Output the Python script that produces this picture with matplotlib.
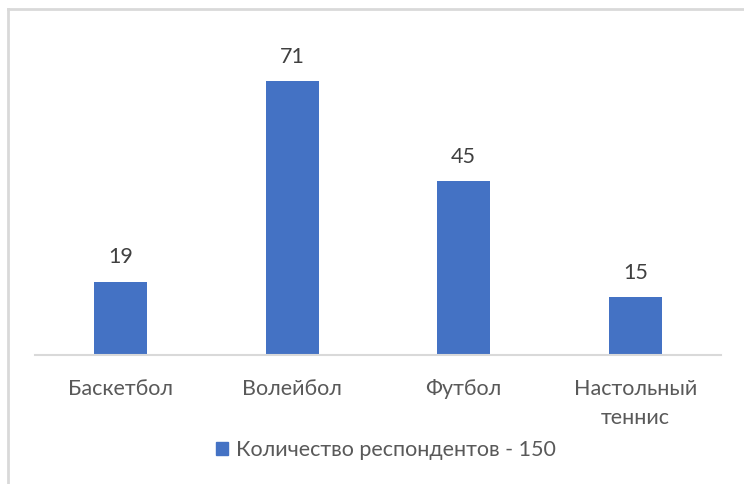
import matplotlib.pyplot as plt
from matplotlib.lines import Line2D

categories = ['Баскетбол', 'Волейбол', 'Футбол', 'Настольный\nтеннис']
values = [19, 71, 45, 15]
series_name = 'Количество респондентов - 150'

W, H = 744, 484
fig = plt.figure(figsize=(W / 100, H / 100), dpi=100)
plt.rcParams['font.family'] = ['Lato', 'DejaVu Sans']

# axes box in pixels: left 35, right 721, baseline 355, top 20
ax = fig.add_axes([35 / W, 1 - 355 / H, 686 / W, 335 / H])
x = range(len(categories))
bars = ax.bar(x, values, width=0.31, color='#4472C4', zorder=2)
ax.set_xlim(-0.5, len(categories) - 0.5)
ax.set_ylim(0, 335 / 3.86)

for b, v in zip(bars, values):
    ax.text(b.get_x() + b.get_width() / 2, v + 6.3, str(v), ha='center', va='center',
            fontsize=15.5, color='#404040')

ax.set_xticks(list(x))
ax.set_xticklabels(categories, fontsize=15.5, color='#595959', linespacing=1.6)
ax.tick_params(axis='x', length=0, pad=17)
ax.set_yticks([])
for s in ['top', 'right', 'left']:
    ax.spines[s].set_visible(False)
ax.spines['bottom'].set_color('#D9D9D9')
ax.spines['bottom'].set_linewidth(1.5)

leg = fig.legend(handles=[plt.Rectangle((0, 0), 1, 1, color='#4472C4')], labels=[series_name],
                 loc='center', bbox_to_anchor=(386 / W, 1 - 450 / H), frameon=False,
                 fontsize=15.5, handlelength=0.55, handleheight=0.55, handletextpad=0.4)
for t in leg.get_texts():
    t.set_color('#595959')

# chart area border (left and top edges visible)
fig.add_artist(Line2D([8 / W, 8 / W], [0, 1 - 9 / H], color='#D9D9D9', lw=2))
fig.add_artist(Line2D([8 / W, 1], [1 - 9 / H, 1 - 9 / H], color='#D9D9D9', lw=2))

fig.savefig('out.png', dpi=100)
